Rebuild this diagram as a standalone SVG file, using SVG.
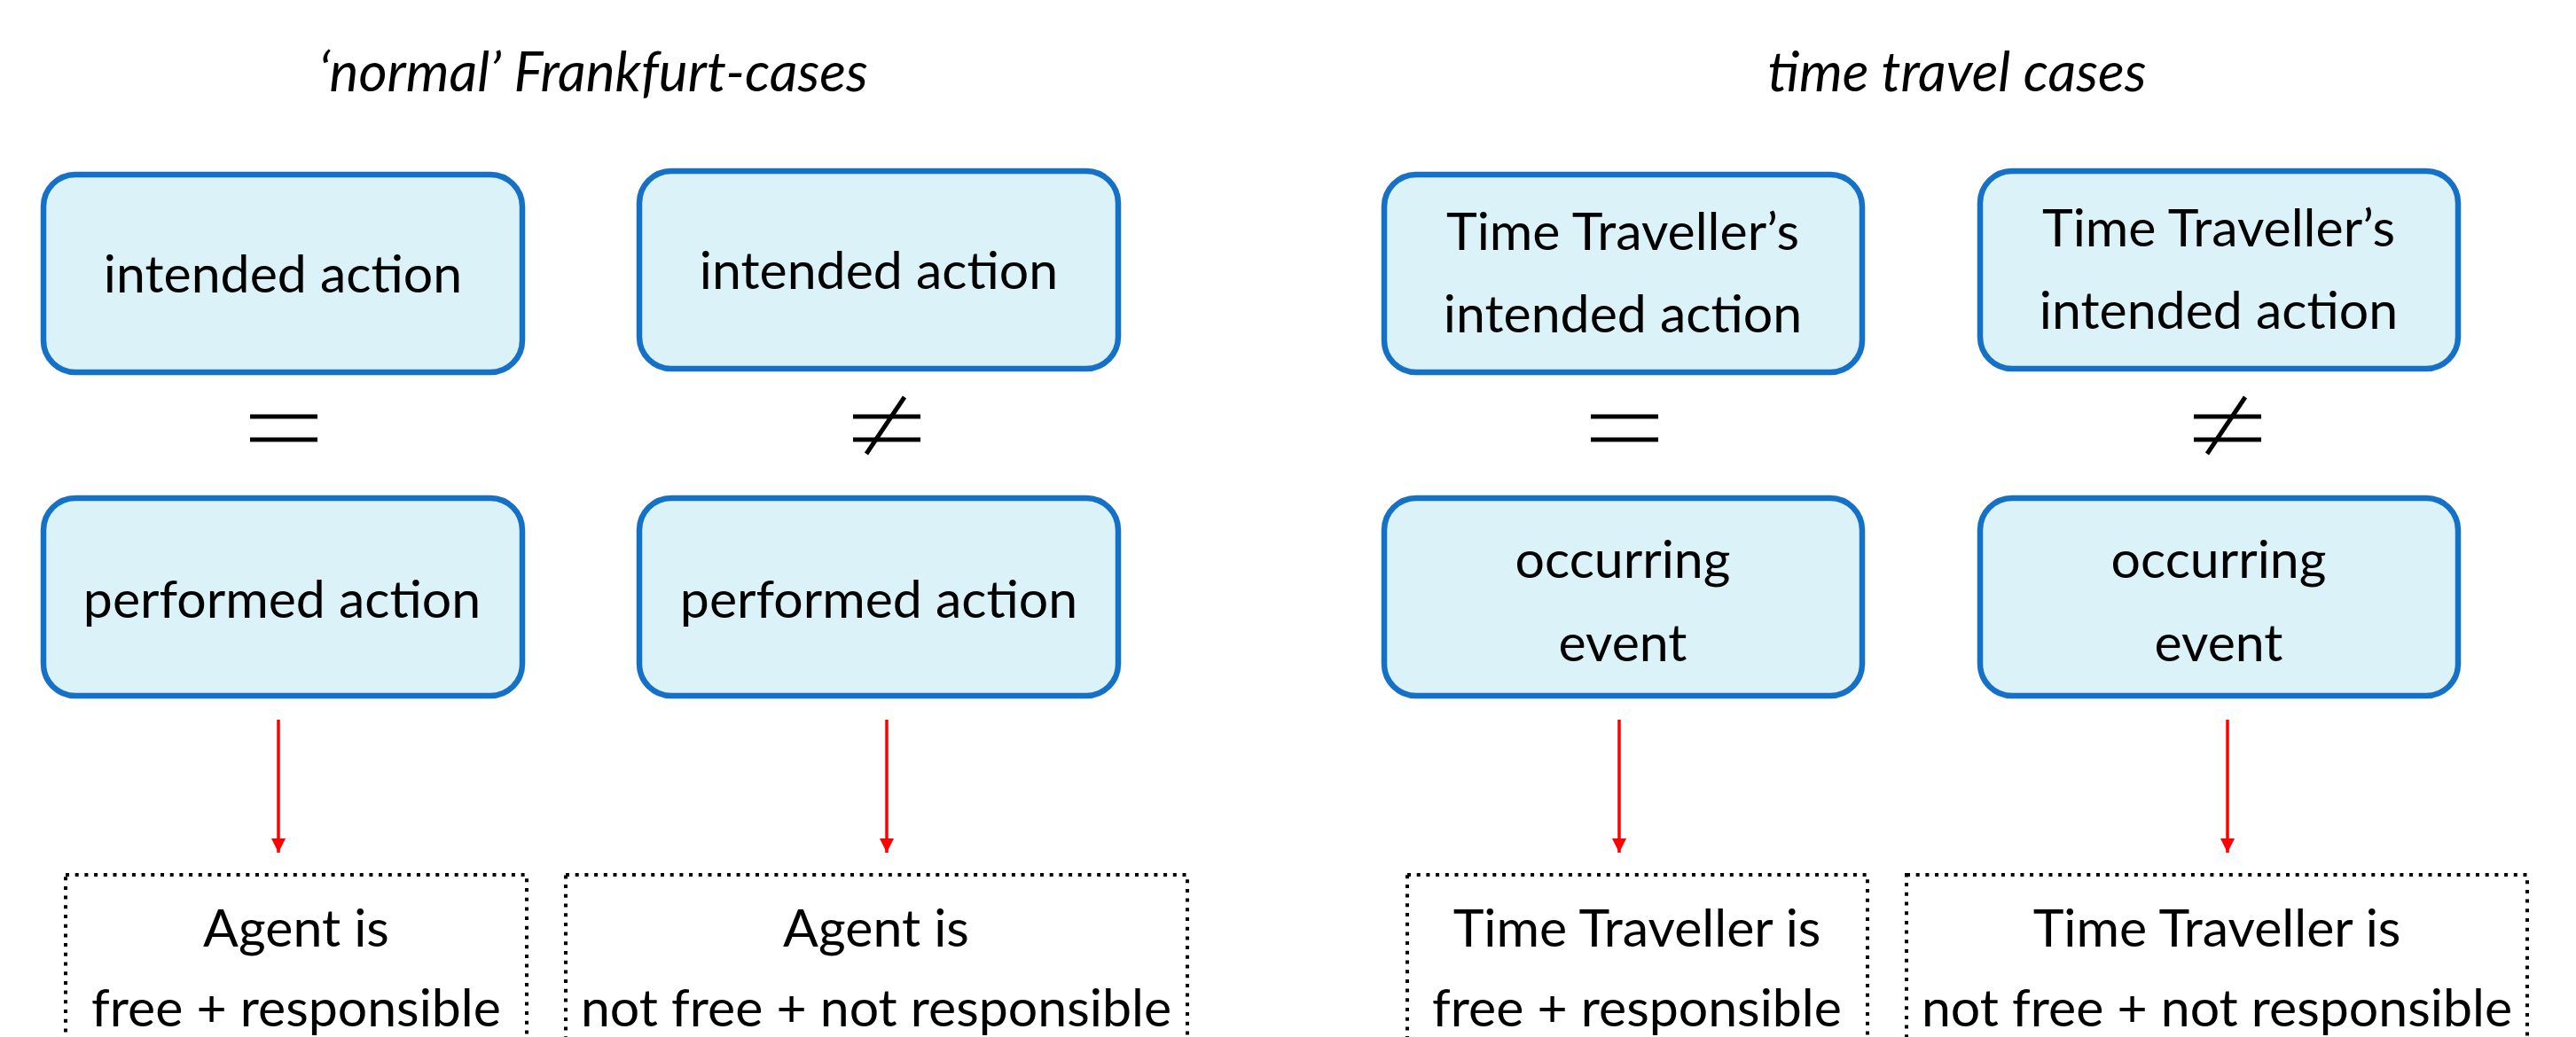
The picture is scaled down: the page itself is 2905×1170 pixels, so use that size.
<svg xmlns="http://www.w3.org/2000/svg" width="2905" height="1170" viewBox="0 0 2905 1170">
<defs>
<style>
.box{fill:#dbf3f8;stroke:#1570c8;stroke-width:6.5}
.res{fill:none;stroke:#000;stroke-width:4;stroke-dasharray:4 6.7}
.t{font-family:Lato,"Open Sans",sans-serif;font-size:59px;fill:#000;text-anchor:middle}
.title{font-family:Lato,"Open Sans",sans-serif;font-size:62px;font-style:italic;fill:#000;text-anchor:middle}
.sym{stroke:#000;stroke-width:5;fill:none}
.arr{stroke:#ff0000;stroke-width:3.5;fill:none}
</style>
<marker id="ah" viewBox="0 0 16 16" refX="16" refY="8" markerWidth="16" markerHeight="16" markerUnits="userSpaceOnUse" orient="auto">
<path d="M0,0 L16,8 L0,16 Z" fill="#ff0000"/>
</marker>
</defs>
<rect width="2905" height="1170" fill="#fff"/>
<text class="title" x="669" y="103">‘normal’ Frankfurt-cases</text>
<text class="title" x="2207" y="103">time travel cases</text>

<g id="n1"><rect class="box" x="49" y="197" width="540" height="223" rx="36"/><text class="t" x="319" y="330">intended action</text></g>
<g id="n2"><rect class="box" x="721" y="193" width="540" height="223" rx="36"/><text class="t" x="991" y="326">intended action</text></g>
<g id="n3"><rect class="box" x="49" y="562" width="540" height="223" rx="36"/><text class="t" x="318" y="697">performed action</text></g>
<g id="n4"><rect class="box" x="721" y="562" width="540" height="223" rx="36"/><text class="t" x="991" y="697">performed action</text></g>
<g id="n5"><rect class="box" x="1561" y="197" width="539" height="223" rx="36"/><text class="t" x="1830" y="282">Time Traveller’s</text><text class="t" x="1830" y="375">intended action</text></g>
<g id="n6"><rect class="box" x="2233" y="193" width="539" height="223" rx="36"/><text class="t" x="2502" y="278">Time Traveller’s</text><text class="t" x="2502" y="371">intended action</text></g>
<g id="n7"><rect class="box" x="1561" y="562" width="539" height="223" rx="36"/><text class="t" x="1830" y="652">occurring</text><text class="t" x="1830" y="746">event</text></g>
<g id="n8"><rect class="box" x="2233" y="562" width="539" height="223" rx="36"/><text class="t" x="2502" y="652">occurring</text><text class="t" x="2502" y="746">event</text></g>

<g id="eq1"><line class="sym" x1="282" y1="470" x2="358" y2="470"/><line class="sym" x1="282" y1="496" x2="358" y2="496"/></g>
<g id="ne1"><line class="sym" x1="962" y1="470" x2="1038" y2="470"/><line class="sym" x1="962" y1="496" x2="1038" y2="496"/><line class="sym" x1="1020" y1="448" x2="977" y2="512"/></g>
<g id="eq2"><line class="sym" x1="1794" y1="470" x2="1870" y2="470"/><line class="sym" x1="1794" y1="496" x2="1870" y2="496"/></g>
<g id="ne2"><line class="sym" x1="2474" y1="470" x2="2550" y2="470"/><line class="sym" x1="2474" y1="496" x2="2550" y2="496"/><line class="sym" x1="2532" y1="448" x2="2489" y2="512"/></g>

<g id="r1"><rect class="res" x="74" y="987" width="520" height="200"/><text class="t" x="334" y="1068">Agent is</text><text class="t" x="334" y="1158">free + responsible</text></g>
<g id="r2"><rect class="res" x="638" y="987" width="701" height="200"/><text class="t" x="988" y="1068">Agent is</text><text class="t" x="988" y="1158">not free + not responsible</text></g>
<g id="r3"><rect class="res" x="1587" y="987" width="519" height="200"/><text class="t" x="1846" y="1068">Time Traveller is</text><text class="t" x="1846" y="1158">free + responsible</text></g>
<g id="r4"><rect class="res" x="2150" y="987" width="700" height="200"/><text class="t" x="2500" y="1068">Time Traveller is</text><text class="t" x="2500" y="1158">not free + not responsible</text></g>

<g id="connectors">
<line class="arr" x1="314" y1="812" x2="314" y2="962" marker-end="url(#ah)"/>
<line class="arr" x1="1000" y1="812" x2="1000" y2="962" marker-end="url(#ah)"/>
<line class="arr" x1="1826" y1="812" x2="1826" y2="962" marker-end="url(#ah)"/>
<line class="arr" x1="2512" y1="812" x2="2512" y2="962" marker-end="url(#ah)"/>
</g>
</svg>
